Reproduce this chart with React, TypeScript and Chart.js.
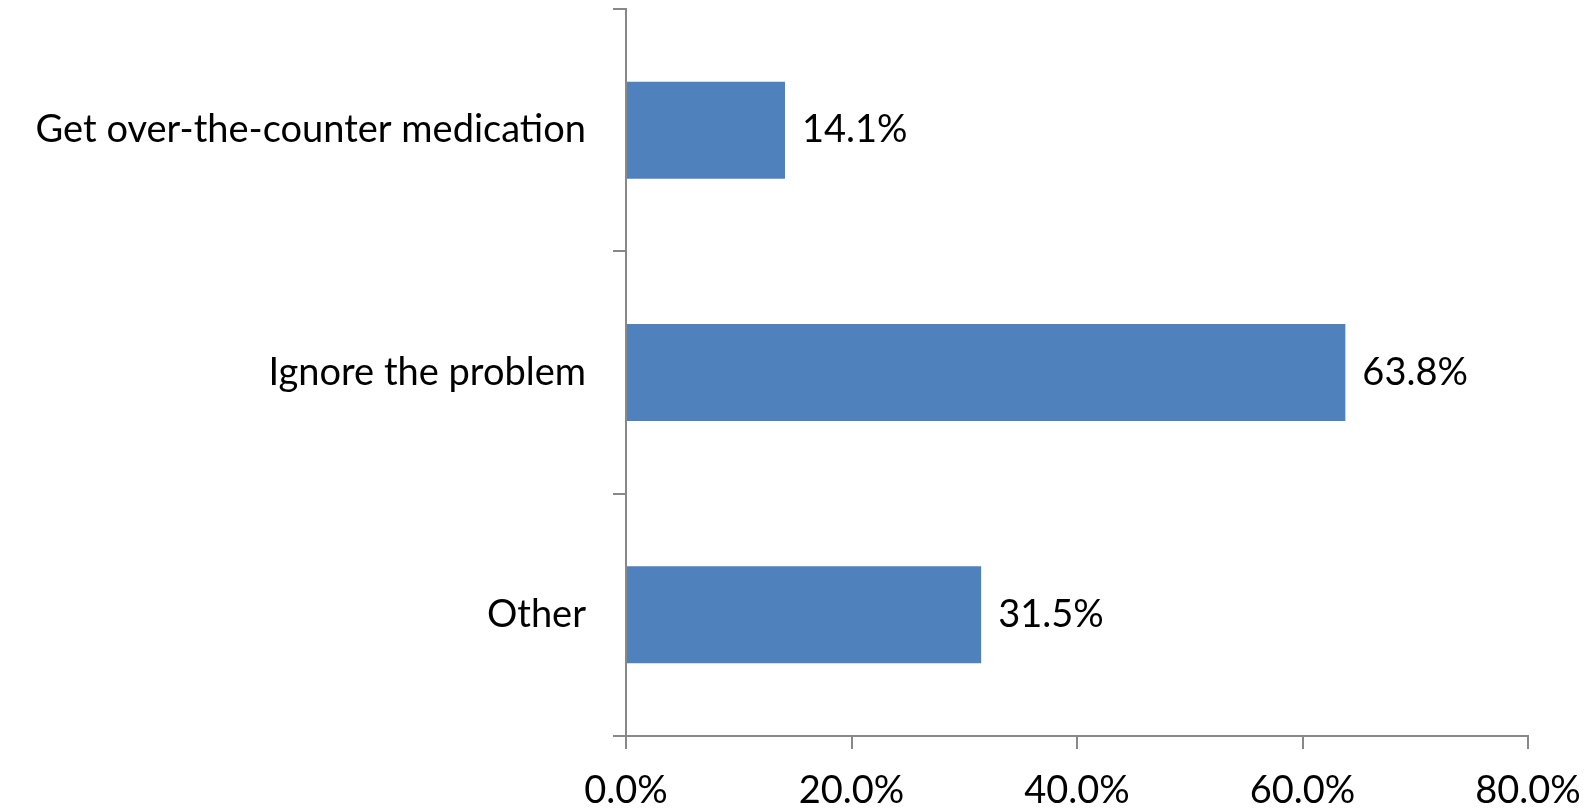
import React, { useEffect, useRef } from "react";
import { Chart, registerables } from "chart.js";

Chart.register(...registerables);

// Survey responses: share of respondents choosing each action
const categories: string[] = [
  "Get over-the-counter medication",
  "Ignore the problem",
  "Other",
];
const shares: number[] = [14.1, 63.8, 31.5];
const axisMax = 80;
const axisStep = 20;

const FONT_FAMILY = "Lato, 'Open Sans', sans-serif";
const FONT_SIZE = 38;
const AXIS_GRAY = "#888888";
const BAR_BLUE = "#4F81BD";

const pct = (v: number) => `${v.toFixed(1)}%`;

// Writes each bar's value just past the end of the bar
const valueLabels = {
  id: "valueLabels",
  afterDatasetsDraw(chart: any) {
    const { ctx } = chart;
    const meta = chart.getDatasetMeta(0);
    ctx.save();
    ctx.font = `${FONT_SIZE}px ${FONT_FAMILY}`;
    ctx.fillStyle = "#000000";
    ctx.textAlign = "left";
    ctx.textBaseline = "middle";
    meta.data.forEach((bar: any, i: number) => {
      ctx.fillText(pct(shares[i]), bar.x + 17, bar.y);
    });
    ctx.restore();
  },
};

export default function App() {
  const canvasRef = useRef<HTMLCanvasElement | null>(null);

  useEffect(() => {
    if (!canvasRef.current) return;
    const chart = new Chart(canvasRef.current, {
      type: "bar",
      data: {
        labels: categories,
        datasets: [
          {
            data: shares,
            backgroundColor: BAR_BLUE,
            borderWidth: 0,
            categoryPercentage: 1,
            barPercentage: 0.4,
          },
        ],
      },
      options: {
        indexAxis: "y",
        animation: false,
        responsive: false,
        maintainAspectRatio: false,
        events: [],
        layout: { padding: { top: 9, right: 67, left: 0, bottom: 0 } },
        plugins: {
          legend: { display: false },
          tooltip: { enabled: false },
          title: { display: false },
        },
        scales: {
          x: {
            min: 0,
            max: axisMax,
            afterFit: (s: any) => {
              s.height = 73;
              s.paddingLeft = 0;
              s.paddingRight = 0;
            },
            ticks: {
              stepSize: axisStep,
              callback: (v: any) => pct(Number(v)),
              color: "#000000",
              font: { family: FONT_FAMILY, size: FONT_SIZE },
              padding: 19,
              maxRotation: 0,
            },
            grid: {
              drawOnChartArea: false,
              drawTicks: true,
              tickLength: 13,
              color: AXIS_GRAY,
              lineWidth: 2,
            },
            border: { display: true, color: AXIS_GRAY, width: 2 },
          },
          y: {
            afterFit: (s: any) => {
              s.width = 626;
              s.paddingTop = 0;
              s.paddingBottom = 0;
            },
            ticks: {
              color: "#000000",
              font: { family: FONT_FAMILY, size: FONT_SIZE },
              padding: 27,
            },
            grid: {
              offset: true,
              drawOnChartArea: false,
              drawTicks: true,
              tickLength: 13,
              color: AXIS_GRAY,
              lineWidth: 2,
            },
            border: { display: true, color: AXIS_GRAY, width: 2 },
          },
        },
      },
      plugins: [valueLabels],
    });
    return () => chart.destroy();
  }, []);

  return (
    <div style={{ position: "fixed", left: 0, top: 0, width: 1595, height: 809, background: "#ffffff" }}>
      <canvas ref={canvasRef} width={1595} height={809} style={{ display: "block" }} />
    </div>
  );
}
